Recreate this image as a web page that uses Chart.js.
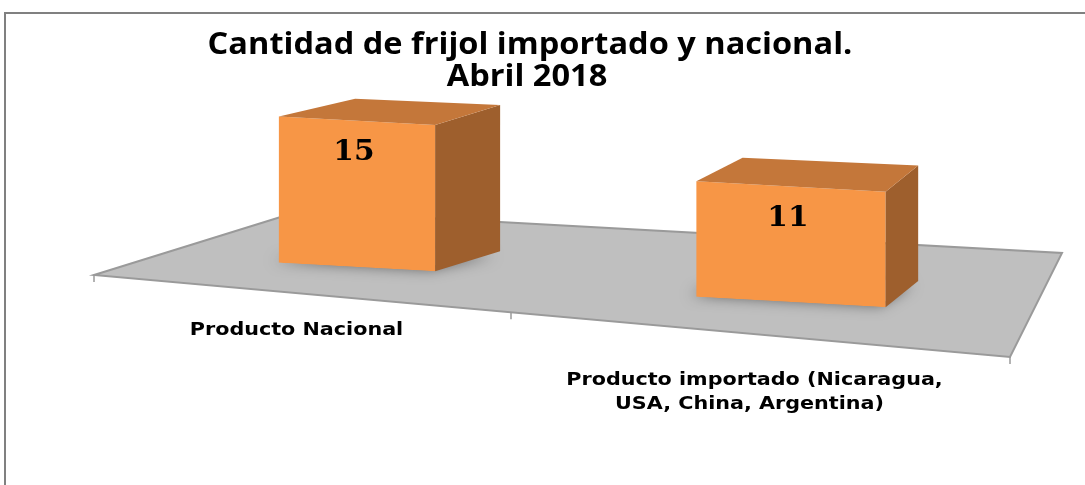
<!DOCTYPE html>
<html>
<head>
<meta charset="utf-8">
<title>Cantidad de frijol importado y nacional</title>
<script src="https://cdn.jsdelivr.net/npm/chart.js@4.4.0/dist/chart.umd.min.js"></script>
<style>
    html, body { margin: 0; padding: 0; background: #fff; }
    #wrap { width: 1085px; height: 485px; position: relative; }
</style>
</head>
<body>
<div id="wrap"><canvas id="chart"></canvas></div>
<script>
(function() {
    'use strict';

    // Data
    const categories = [
        'Producto Nacional',
        ['Producto importado (Nicaragua,', 'USA, China, Argentina)']
    ];
    const quantities = [15, 11];
    const titleLines = ['Cantidad de frijol importado y nacional.', 'Abril 2018'];
    const valueMax = 20;

    const colors = {
        front: '#F79646',
        top: '#C4773A',
        side: '#9E5F2D',
        floor: '#BFBFBF',
        floorEdge: '#9A9A9A',
        border: '#808080',
        text: '#000000'
    };

    // fake perspective: per-category scale / drop of the box, common skew
    const SKEW = 0.055;
    const view = [
        { kx: 0.90, ky: 0.975, drop: 0 },
        { kx: 1.09, ky: 1.05, drop: 35 }
    ];

    function depthAt(x) {
        return { dx: 65 - (x - 435) * 0.072, dy: -20 - (x - 435) * 0.014 };
    }

    function stretchedText(ctx, text, x, y, font, sx) {
        ctx.save();
        ctx.font = font;
        ctx.fillStyle = colors.text;
        ctx.textAlign = 'center';
        ctx.textBaseline = 'middle';
        ctx.translate(x, y);
        ctx.scale(sx, 1);
        ctx.fillText(text, 0, 0);
        ctx.restore();
    }

    function poly(ctx, pts, fill) {
        ctx.beginPath();
        ctx.moveTo(pts[0].x, pts[0].y);
        for (let i = 1; i < pts.length; i++) ctx.lineTo(pts[i].x, pts[i].y);
        ctx.closePath();
        ctx.fillStyle = fill;
        ctx.fill();
    }

    // affine map of chart pixels for category i -> screen
    function viewFor(chart, i) {
        const cx = chart.scales.x.getPixelForValue(i);
        const base = chart.scales.y.getPixelForValue(0);
        const v = view[i];
        const m = {
            a: v.kx, b: SKEW * v.kx, c: 0, d: v.ky,
            e: cx - v.kx * cx,
            f: base + v.drop - v.ky * base - SKEW * v.kx * cx
        };
        m.map = (x, y) => ({ x: m.a * x + m.c * y + m.e, y: m.b * x + m.d * y + m.f });
        return m;
    }

    function boxCorners(chart, i) {
        const bar = chart.getDatasetMeta(i).data[i];
        const p = bar.getProps(['x', 'y', 'base', 'width'], true);
        const m = viewFor(chart, i);
        const xl = p.x - p.width / 2, xr = p.x + p.width / 2;
        return {
            TL: m.map(xl, p.y), TR: m.map(xr, p.y),
            BL: m.map(xl, p.base), BR: m.map(xr, p.base),
            TC: m.map(p.x, p.y)
        };
    }

    const back = pt => {
        const d = depthAt(pt.x);
        return { x: pt.x + d.dx, y: pt.y + d.dy };
    };

    const box3d = {
        id: 'box3d',

        beforeDraw(chart) {
            const ctx = chart.ctx;
            ctx.save();
            ctx.strokeStyle = colors.border;
            ctx.lineWidth = 2;
            ctx.strokeRect(5, 13, 1200, 600);
            ctx.restore();

            stretchedText(ctx, titleLines[0], 530, 45, 'bold 31px "Open Sans"', 1.05);
            stretchedText(ctx, titleLines[1], 527, 77, 'bold 31px "Open Sans"', 1.05);
        },

        beforeDatasetsDraw(chart) {
            const ctx = chart.ctx;
            const area = chart.chartArea;
            const base = chart.scales.y.getPixelForValue(0);

            // floor
            const FL = { x: area.left - 46, y: base + 8 };
            const FR = { x: area.right + 2, y: base + 90 };
            const BR = { x: area.right + 54, y: base - 14 };
            const BL = { x: area.left + 160, y: base - 56 };
            poly(ctx, [FL, FR, BR, BL], colors.floor);

            ctx.save();
            ctx.strokeStyle = colors.floorEdge;
            ctx.lineWidth = 2;
            ctx.beginPath();
            ctx.moveTo(BL.x, BL.y);
            ctx.lineTo(FL.x, FL.y);
            ctx.lineTo(FR.x, FR.y);
            ctx.lineTo(BR.x, BR.y);
            ctx.lineTo(BL.x, BL.y);
            ctx.stroke();

            // category boundaries on the front edge
            const edgeY = x => FL.y + (x - FL.x) * (FR.y - FL.y) / (FR.x - FL.x);
            const bounds = [FL.x, (area.left + area.right) / 2 - 63, FR.x];
            ctx.lineWidth = 1.5;
            bounds.forEach(bx => {
                ctx.beginPath();
                ctx.moveTo(bx, edgeY(bx));
                ctx.lineTo(bx, edgeY(bx) + 7);
                ctx.stroke();
            });
            ctx.restore();

            // category labels
            categories.forEach((label, i) => {
                const lines = Array.isArray(label) ? label : [label];
                const cx = (bounds[i] + bounds[i + 1]) / 2 - 6;
                const cy = edgeY(cx) + 37 + 9 * i;
                lines.forEach((line, j) => {
                    stretchedText(ctx, line, cx - 5 * j, cy + j * 24, 'bold 18px "DejaVu Sans"', 1.15);
                });
            });

            // soft shadow at the foot of each box
            quantities.forEach((v, i) => {
                const k = boxCorners(chart, i);
                ctx.save();
                ctx.shadowColor = 'rgba(0,0,0,0.5)';
                ctx.shadowBlur = 14;
                ctx.shadowOffsetX = -6;
                ctx.shadowOffsetY = 4;
                poly(ctx, [
                    { x: k.BL.x, y: k.BL.y - 6 }, { x: k.BR.x, y: k.BR.y - 6 },
                    back(k.BR), back(k.BL)
                ], colors.floor);
                ctx.restore();
            });
        },

        // the front faces are drawn by Chart.js, each under its own view
        beforeDatasetDraw(chart, args) {
            const m = viewFor(chart, args.index);
            chart.ctx.save();
            chart.ctx.transform(m.a, m.b, m.c, m.d, m.e, m.f);
        },

        afterDatasetDraw(chart) {
            chart.ctx.restore();
        },

        afterDatasetsDraw(chart) {
            const ctx = chart.ctx;
            quantities.forEach((v, i) => {
                const k = boxCorners(chart, i);
                poly(ctx, [k.TR, k.BR, back(k.BR), back(k.TR)], colors.side);
                poly(ctx, [k.TL, k.TR, back(k.TR), back(k.TL)], colors.top);
                stretchedText(ctx, String(v), k.TC.x - 3, k.TC.y + 32, 'bold 27px "DejaVu Serif"', 1.1);
            });
        }
    };

    new Chart(document.getElementById('chart'), {
        type: 'bar',
        data: {
            labels: categories,
            datasets: quantities.map((v, i) => ({
                label: 'Cantidad',
                data: categories.map((_, j) => (j === i ? v : null)),
                backgroundColor: colors.front,
                borderWidth: 0,
                grouped: false,
                barPercentage: 0.4,
                categoryPercentage: 1
            }))
        },
        options: {
            responsive: true,
            maintainAspectRatio: false,
            animation: false,
            layout: { padding: { top: 67, bottom: 218, left: 140, right: 77 } },
            plugins: {
                legend: { display: false },
                tooltip: { enabled: false },
                title: { display: false }
            },
            scales: {
                x: { display: false },
                y: { display: false, min: 0, max: valueMax }
            }
        },
        plugins: [box3d]
    });
})();
</script>
</body>
</html>
